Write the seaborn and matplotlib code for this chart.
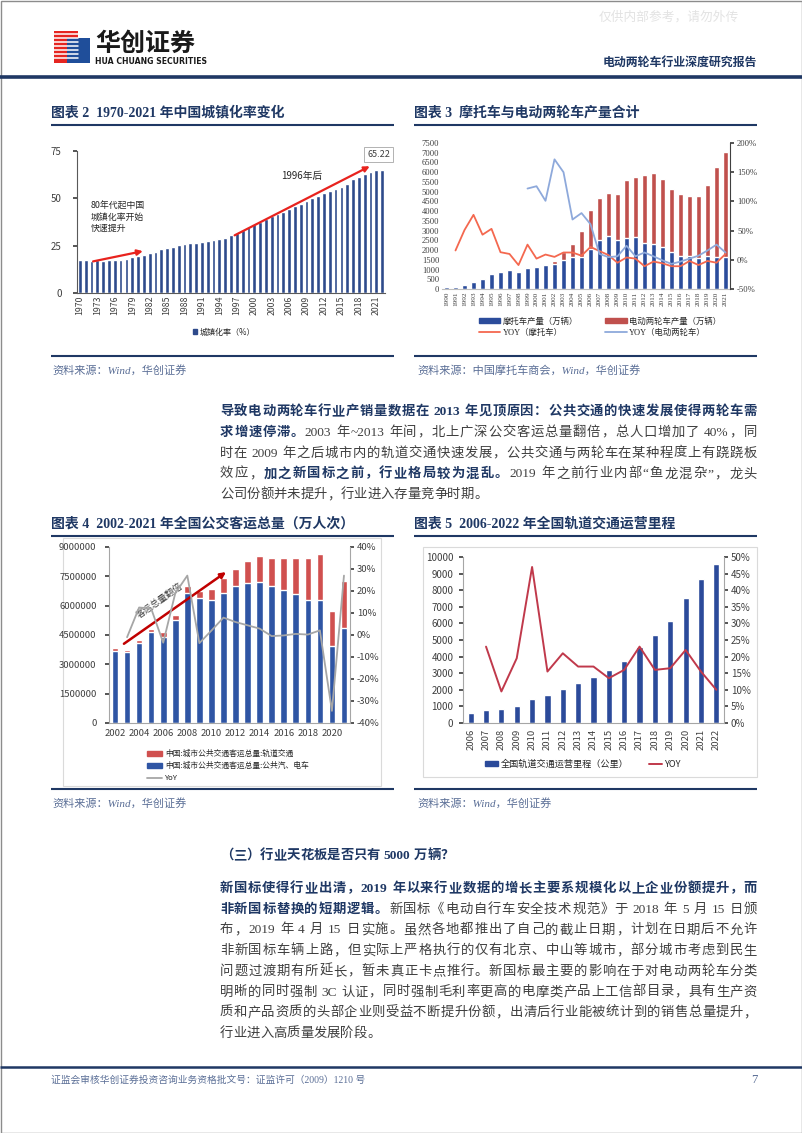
import numpy as np
import pandas as pd
import matplotlib
matplotlib.use("Agg")
import matplotlib.pyplot as plt
import seaborn as sns
from matplotlib.patches import Patch, Rectangle
from matplotlib.lines import Line2D
from matplotlib.font_manager import FontProperties
from matplotlib.ticker import FuncFormatter

# ---------------- data ----------------
urban_years = [str(y) for y in range(1970, 2023)]
urban_rate = [17.38, 17.26, 17.13, 17.20, 17.16, 17.34, 17.44, 17.55, 17.92, 18.96,
              19.39, 20.16, 21.13, 21.62, 23.01, 23.71, 24.52, 25.32, 25.81, 26.21,
              26.41, 26.94, 27.46, 27.99, 28.51, 29.04, 30.48, 31.91, 33.35, 34.78,
              36.22, 37.66, 39.09, 40.53, 41.76, 42.99, 44.34, 45.89, 46.99, 48.34,
              49.95, 51.27, 52.57, 53.73, 54.77, 56.10, 57.35, 60.24, 61.50, 62.71,
              63.89, 64.72, 65.22]

moto_years = [str(y) for y in range(1990, 2022)]
moto_prod = [90, 100, 190, 340, 490, 760, 880, 970, 880, 1100, 1150, 1240, 1300, 1470,
             1660, 1660, 2080, 2520, 2720, 2520, 2640, 2670, 2350, 2310, 2140, 1890,
             1670, 1700, 1580, 1700, 1650, 1620]
ebike_prod = [0, 0, 0, 0, 0, 0, 0, 0, 5, 13, 29, 58, 140, 440, 660, 1300, 2000, 2160,
              2200, 2380, 2960, 3100, 3500, 3660, 3520, 3250, 3210, 3100, 3220, 3620,
              4640, 5440]
moto_yoy = [0.16, 0.51, 0.77, 0.43, 0.53, 0.13, 0.10, -0.09, 0.26, 0.02, 0.09, 0.05,
            0.125, 0.125, 0.07, 0.22, 0.15, 0.08, -0.05, 0.04, 0.02, -0.11, -0.03,
            -0.06, -0.11, -0.11, -0.02, -0.09, -0.02, -0.05, 0.10]          # 1991-2021
ebike_yoy = [1.22, 1.26, 1.01, 1.72, 1.50, 0.69, 0.80, 0.61, 0.10, 0.045, 0.06, 0.24,
             0.06, 0.125, 0.06, -0.01, -0.07, -0.03, 0.02, 0.07, 0.16, 0.26, 0.125]  # 1999-2021

bus_years = [str(y) for y in range(2002, 2022)]
bus_bus = [3700000, 3650000, 4090000, 4640000, 4380000, 5280000, 6670000, 6370000,
           6280000, 6670000, 7000000, 7160000, 7210000, 7000000, 6820000, 6610000,
           6310000, 6270000, 3920000, 4860000]
bus_rail = [120000, 100000, 170000, 170000, 260000, 240000, 350000, 390000, 560000,
            730000, 850000, 1110000, 1310000, 1450000, 1620000, 1840000, 2140000,
            2390000, 1790000, 2400000]
bus_yoy = [-0.01, 0.125, 0.12, -0.035, 0.19, 0.27, -0.037, 0.02, 0.079, 0.059, 0.044,
           0.029, -0.005, -0.002, 0.005, 0.002, 0.021, -0.345, 0.27]   # 2003-2021

rail_years = [str(y) for y in range(2006, 2023)]
rail_km = [620, 770, 820, 1000, 1470, 1700, 2050, 2400, 2800, 3200, 3730, 4580, 5300,
           6150, 7550, 8700, 9580]
rail_yoy = [0.23, 0.095, 0.195, 0.47, 0.155, 0.21, 0.17, 0.17, 0.135, 0.16, 0.23, 0.16,
            0.165, 0.22, 0.155, 0.10]   # 2007-2022

# ---------------- style ----------------
sns.set_theme(style="white")
plt.rcParams["font.family"] = ["Noto Sans CJK SC", "DejaVu Sans"]
plt.rcParams["axes.unicode_minus"] = False

SERIF = ["Liberation Serif", "Noto Sans CJK SC"]
NAVY = "#1F3864"
REG_C = "#3F3F3F"
SRC_C = "#5A6E96"

W, H = 802, 1133
fig = plt.figure(figsize=(W / 100, H / 100), dpi=100)
page = fig.add_axes([0, 0, 1, 1], zorder=-5)
page.set_xlim(0, W)
page.set_ylim(H, 0)
page.axis("off")
renderer = fig.canvas.get_renderer()


def box(l, t, r, b):
    return [l / W, 1 - b / H, (r - l) / W, (b - t) / H]


def hline(y, x0, x1, lw=1.5, color=NAVY):
    page.plot([x0, x1], [y, y], color=color, lw=lw, solid_capstyle="butt")


def tokens(s):
    out, buf = [], ""
    for ch in s:
        if ord(ch) < 128 and ch != " ":
            buf += ch
        else:
            if buf:
                out.append(buf)
                buf = ""
            out.append(ch)
    if buf:
        out.append(buf)
    return out


def para_line(y, segs, x0=220, x1=757, size=9.6, justify=True):
    props = {b: FontProperties(family=SERIF, size=size, weight="bold" if b else "normal")
             for b in (True, False)}
    units = [(t, b) for s, b in segs for t in tokens(s)]
    widths = []
    for t, b in units:
        if t == " ":
            widths.append(size * 100 / 72 * 0.25)
        else:
            widths.append(renderer.get_text_width_height_descent(t, props[b], ismath=False)[0])
    gap = 0
    if justify and len(units) > 1:
        gap = ((x1 - x0) - sum(widths)) / (len(units) - 1)
    x = x0
    for (t, b), w in zip(units, widths):
        if t != " ":
            page.text(x, y, t, fontproperties=props[b], color=NAVY if b else REG_C,
                      ha="left", va="baseline")
        x += w + gap


# ---------------- page furniture ----------------
page.add_patch(Rectangle((0.5, 0.5), W - 1, H - 1, fill=False, ec="#8C8C8C", lw=1))
page.add_patch(Rectangle((54, 31), 24, 32, color="#E52521", lw=0))
for yy in range(34, 62, 4):
    page.plot([54, 78], [yy, yy], color="white", lw=1.1)
page.add_patch(Rectangle((67, 38), 23, 25, color="#1F4E9A", lw=0))
page.text(95, 44, "华创证券", fontsize=18, fontweight="bold", color="#1A1A1A",
          va="center", ha="left")
page.text(95, 62, "HUA CHUANG SECURITIES", fontsize=5.6, fontweight="bold",
          color="#1A1A1A", va="center", ha="left", family="DejaVu Sans")
page.text(739, 17, "仅供内部参考，请勿外传", fontsize=9.2, color="#E3E3E3", ha="right", va="center")
page.text(757, 63, "电动两轮车行业深度研究报告", fontsize=8.6, fontweight="bold", color=NAVY,
          ha="right", va="center", family=SERIF)
hline(77, 0, W, lw=2.6)

title_fp = dict(fontsize=10, fontweight="bold", color=NAVY, family=SERIF, va="center", ha="left")
page.text(51, 113, "图表 2  1970-2021 年中国城镇化率变化", **title_fp)
page.text(414, 113, "图表 3  摩托车与电动两轮车产量合计", **title_fp)
hline(125, 51, 394)
hline(125, 414, 757)
hline(356, 51, 394)
hline(356, 414, 757)
src_fp = dict(fontsize=8, color=SRC_C, family=SERIF, style="italic", va="center", ha="left")
page.text(52, 370, "资料来源：Wind，华创证券", **src_fp)
page.text(417, 370, "资料来源：中国摩托车商会，Wind，华创证券", **src_fp)

page.text(51, 524, "图表 4  2002-2021 年全国公交客运总量（万人次）", **title_fp)
page.text(414, 524, "图表 5  2006-2022 年全国轨道交通运营里程", **title_fp)
hline(536, 51, 394)
hline(536, 414, 757)
page.add_patch(Rectangle((63, 538), 318, 248, fill=False, ec="#DADADA", lw=0.8))
page.add_patch(Rectangle((423, 547), 334, 230, fill=False, ec="#DADADA", lw=0.8))
hline(789, 51, 394)
hline(789, 414, 757)
page.text(52, 803, "资料来源：Wind，华创证券", **src_fp)
page.text(417, 803, "资料来源：Wind，华创证券", **src_fp)

hline(1067, 0, W, lw=1.8)
page.text(51, 1080, "证监会审核华创证券投资咨询业务资格批文号：证监许可（2009）1210 号",
          fontsize=7, color=SRC_C, family=SERIF, va="center", ha="left")
page.text(757, 1080, "7", fontsize=9, color=SRC_C, family=SERIF, va="center", ha="right")

# paragraph 1
p1 = [
    [("导致电动两轮车行业产销量数据在 2013 年见顶原因：公共交通的快速发展使得两轮车需", True)],
    [("求增速停滞。", True), ("2003 年~2013 年间，北上广深公交客运总量翻倍，总人口增加了 40%，同", False)],
    [("时在 2009 年之后城市内的轨道交通快速发展，公共交通与两轮车在某种程度上有跷跷板", False)],
    [("效应，", False), ("加之新国标之前，行业格局较为混乱。", True),
     ("2019 年之前行业内部“鱼龙混杂”，龙头", False)],
    [("公司份额并未提升，行业进入存量竞争时期。", False)],
]
for i, segs in enumerate(p1):
    para_line(415 + 20.8 * i, segs, justify=(i < len(p1) - 1))

para_line(859, [("（三）行业天花板是否只有 5000 万辆？", True)], justify=False)
p2 = [
    [("新国标使得行业出清，2019 年以来行业数据的增长主要系规模化以上企业份额提升，而", True)],
    [("非新国标替换的短期逻辑。", True), ("新国标《电动自行车安全技术规范》于 2018 年 5 月 15 日颁", False)],
    [("布，2019 年 4 月 15 日实施。虽然各地都推出了自己的截止日期，计划在日期后不允许", False)],
    [("非新国标车辆上路，但实际上严格执行的仅有北京、中山等城市，部分城市考虑到民生", False)],
    [("问题过渡期有所延长，暂未真正卡点推行。新国标最主要的影响在于对电动两轮车分类", False)],
    [("明晰的同时强制 3C 认证，同时强制毛利率更高的电摩类产品上工信部目录，具有生产资", False)],
    [("质和产品资质的头部企业则受益不断提升份额，出清后行业能被统计到的销售总量提升，", False)],
    [("行业进入高质量发展阶段。", False)],
]
for i, segs in enumerate(p2):
    para_line(892 + 20.7 * i, segs, justify=(i < len(p2) - 1))


def style_spines(ax, left=True, right=False, bottom=True, color="#595959"):
    for side, vis in (("left", left), ("right", right), ("bottom", bottom), ("top", False)):
        ax.spines[side].set_visible(vis)
        ax.spines[side].set_color(color)
        ax.spines[side].set_linewidth(0.8)


# ---------------- chart 2: urbanization ----------------
ax2 = fig.add_axes(box(77, 151, 385, 293))
ax2.set_facecolor("none")
sns.barplot(x=urban_years, y=urban_rate, color="#2E4A8B", saturation=1, width=0.65, ax=ax2)
ax2.set(xlabel="", ylabel="")
ax2.set_ylim(0, 75)
ax2.set_yticks([0, 25, 50, 75])
ax2.set_xticks(range(0, len(urban_years), 3))
ax2.set_xticklabels(urban_years[::3], rotation=90)
ax2.tick_params(axis="x", length=0, labelsize=6.3, colors="#404040", pad=2)
ax2.tick_params(axis="y", length=3, labelsize=7, colors="#404040", left=True, pad=8)
style_spines(ax2)
ax2.annotate("", xy=(11.3, 22.4), xytext=(1.8, 16.4),
             arrowprops=dict(arrowstyle="-|>", color="#E8231E", lw=1.6, mutation_scale=8))
ax2.annotate("", xy=(50.3, 67.6), xytext=(26.2, 29.8),
             arrowprops=dict(arrowstyle="-|>", color="#E8231E", lw=1.6, mutation_scale=8))
ax2.text(1.8, 48.5, "80年代起中国\n城镇化率开始\n快速提升", fontsize=6.4, ha="left", va="top",
         color="#262626", linespacing=1.35)
ax2.text(38.2, 61.7, "1996年后", fontsize=7, ha="center", va="center", color="#262626")
ax2.text(51.4, 73.3, "65.22", fontsize=6.5, ha="center", va="center", color="#404040",
         bbox=dict(boxstyle="square,pad=0.35", fc="white", ec="#A6A6A6", lw=0.6), clip_on=False)
fig.legend(handles=[Patch(color="#2E4A8B")], labels=["城镇化率（%）"], loc="center",
           bbox_to_anchor=(224 / W, 1 - 332 / H), frameon=False, fontsize=5.8,
           handlelength=0.6, handleheight=0.6, handletextpad=0.3)

# ---------------- chart 3: motorcycle & e-bike ----------------
BLUE3, RED3 = "#2B4C9B", "#C0504D"
ax3 = fig.add_axes(box(442, 143, 730, 289))
ax3.set_facecolor("none")
moto_total = [m + e for m, e in zip(moto_prod, ebike_prod)]
sns.barplot(x=moto_years, y=moto_total, color=RED3, saturation=1, width=0.5, ax=ax3)
sns.barplot(x=moto_years, y=moto_prod, color=BLUE3, saturation=1, width=0.5, ax=ax3)
ax3.set(xlabel="", ylabel="")
ax3.set_ylim(0, 7500)
ax3.set_yticks(range(0, 7501, 500))
ax3.set_xticks(range(len(moto_years)))
ax3.set_xticklabels(moto_years, rotation=90)
ax3.tick_params(axis="x", length=0, labelsize=5.2, colors="#404040", pad=2,
                labelfontfamily="Liberation Serif")
ax3.tick_params(axis="y", length=0, labelsize=6.2, colors="#404040", pad=2,
                labelfontfamily="Liberation Serif")
style_spines(ax3, left=False, color="#BFBFBF")
ax3r = ax3.twinx()
sns.lineplot(x=np.arange(1, 32), y=moto_yoy, color="#F4684F", lw=1.3, ax=ax3r)
sns.lineplot(x=np.arange(9, 32), y=ebike_yoy, color="#8EA9DB", lw=1.3, ax=ax3r)
ax3r.set_ylim(-0.5, 2.0)
ax3r.set_yticks(np.arange(-0.5, 2.01, 0.5))
ax3r.yaxis.set_major_formatter(FuncFormatter(lambda v, p: f"{v * 100:.0f}%"))
ax3r.tick_params(axis="y", length=3, direction="out", right=True, labelsize=6.2,
                 colors="#404040", labelfontfamily="Liberation Serif", pad=2)
ax3r.set(xlabel="", ylabel="")
style_spines(ax3r, left=False, right=True, bottom=False, color="#404040")
ax3.set_xlim(-0.5, len(moto_years) - 0.5)
# ncol=2 fills column-wise: column 1 = moto items, column 2 = e-bike items
fig.legend(handles=[Patch(color=BLUE3), Line2D([], [], color="#F4684F", lw=1.3),
                    Patch(color=RED3), Line2D([], [], color="#8EA9DB", lw=1.3)],
           labels=["摩托车产量（万辆）", "YOY（摩托车）", "电动两轮车产量（万辆）", "YOY（电动两轮车）"],
           loc="center", bbox_to_anchor=(600 / W, 1 - 327 / H), ncol=2, frameon=False,
           prop=FontProperties(family=SERIF, size=6), columnspacing=3.2,
           handlelength=2.6, handleheight=0.6, handletextpad=0.3, labelspacing=0.4)

# ---------------- chart 4: public transit ----------------
BLUE4, RED4 = "#2F55A4", "#D0504F"
ax4 = fig.add_axes(box(109, 547, 350, 723))
ax4.set_facecolor("none")
bus_total = [a + b for a, b in zip(bus_bus, bus_rail)]
sns.barplot(x=bus_years, y=bus_total, color=RED4, saturation=1, width=0.55, ax=ax4)
sns.barplot(x=bus_years, y=bus_bus, color=BLUE4, saturation=1, width=0.55, ax=ax4)
ax4.set(xlabel="", ylabel="")
ax4.set_ylim(0, 9000000)
ax4.set_yticks(range(0, 9000001, 1500000))
ax4.yaxis.set_major_formatter(FuncFormatter(lambda v, p: f"{v:.0f}"))
ax4.set_xticks(range(0, len(bus_years), 2))
ax4.set_xticklabels(bus_years[::2])
ax4.tick_params(axis="x", length=0, labelsize=6.8, colors="#404040", pad=4)
ax4.tick_params(axis="y", length=3, direction="out", left=True, labelsize=6.8,
                colors="#404040", pad=6)
style_spines(ax4, color="#A6A6A6")
ax4r = ax4.twinx()
sns.lineplot(x=np.arange(1, 20), y=bus_yoy, color="#A6A6A6", lw=1.3, ax=ax4r)
ax4r.set_ylim(-0.4, 0.4)
ax4r.set_yticks(np.arange(-0.4, 0.401, 0.1))
ax4r.yaxis.set_major_formatter(FuncFormatter(lambda v, p: f"{round(v * 100):.0f}%"))
ax4r.tick_params(axis="y", length=3, direction="out", right=True, labelsize=6.8,
                 colors="#404040", pad=2)
ax4r.set(xlabel="", ylabel="")
style_spines(ax4r, left=False, right=True, bottom=False, color="#A6A6A6")
ax4.set_xlim(-0.5, len(bus_years) - 0.5)
ax4.annotate("", xy=(9.4, 7800000), xytext=(0.55, 3970000),
             arrowprops=dict(arrowstyle="-|>", color="#C00000", lw=1.8, mutation_scale=8))
ax4.text(3.7, 6250000, "客运总量翻倍", rotation=35, fontsize=6.5, ha="center", va="center",
         color="#404040", rotation_mode="anchor")
fig.legend(handles=[Patch(color=RED4), Patch(color=BLUE4),
                    Line2D([], [], color="#A6A6A6", lw=1.3)],
           labels=["中国:城市公共交通客运总量:轨道交通", "中国:城市公共交通客运总量:公共汽、电车", "YoY"],
           loc="upper left", bbox_to_anchor=(140 / W, 1 - 743 / H), frameon=False,
           fontsize=5.6, handlelength=1.9, handleheight=0.6, handletextpad=0.4, labelspacing=0.5)

# ---------------- chart 5: rail mileage ----------------
BLUE5, RED5 = "#2B4A9A", "#C0394B"
ax5 = fig.add_axes(box(463, 557, 724, 723))
ax5.set_facecolor("none")
sns.barplot(x=rail_years, y=rail_km, color=BLUE5, saturation=1, width=0.4, ax=ax5)
ax5.set(xlabel="", ylabel="")
ax5.set_ylim(0, 10000)
ax5.set_yticks(range(0, 10001, 1000))
ax5.set_xticks(range(len(rail_years)))
ax5.set_xticklabels(rail_years, rotation=90)
ax5.tick_params(axis="x", length=0, labelsize=6.8, colors="#404040", pad=4)
ax5.tick_params(axis="y", length=3, direction="out", left=True, labelsize=7,
                colors="#404040", pad=4)
style_spines(ax5, color="#A6A6A6")
ax5r = ax5.twinx()
sns.lineplot(x=np.arange(1, 17), y=rail_yoy, color=RED5, lw=1.4, ax=ax5r)
ax5r.set_ylim(0, 0.5)
ax5r.set_yticks(np.arange(0, 0.501, 0.05))
ax5r.yaxis.set_major_formatter(FuncFormatter(lambda v, p: f"{round(v * 100):.0f}%"))
ax5r.tick_params(axis="y", length=3, direction="out", right=True, labelsize=7,
                 colors="#404040", pad=2)
ax5r.set(xlabel="", ylabel="")
style_spines(ax5r, left=False, right=True, bottom=False, color="#A6A6A6")
ax5.set_xlim(-0.5, len(rail_years) - 0.5)
fig.legend(handles=[Patch(color=BLUE5), Line2D([], [], color=RED5, lw=1.4)],
           labels=["全国轨道交通运营里程（公里）", "YOY"], loc="center",
           bbox_to_anchor=(583 / W, 1 - 764 / H), ncol=2, frameon=False, fontsize=6.6,
           handlelength=1.4, handleheight=0.6, handletextpad=0.3, columnspacing=2.2)

fig.savefig("out.png", dpi=100)
